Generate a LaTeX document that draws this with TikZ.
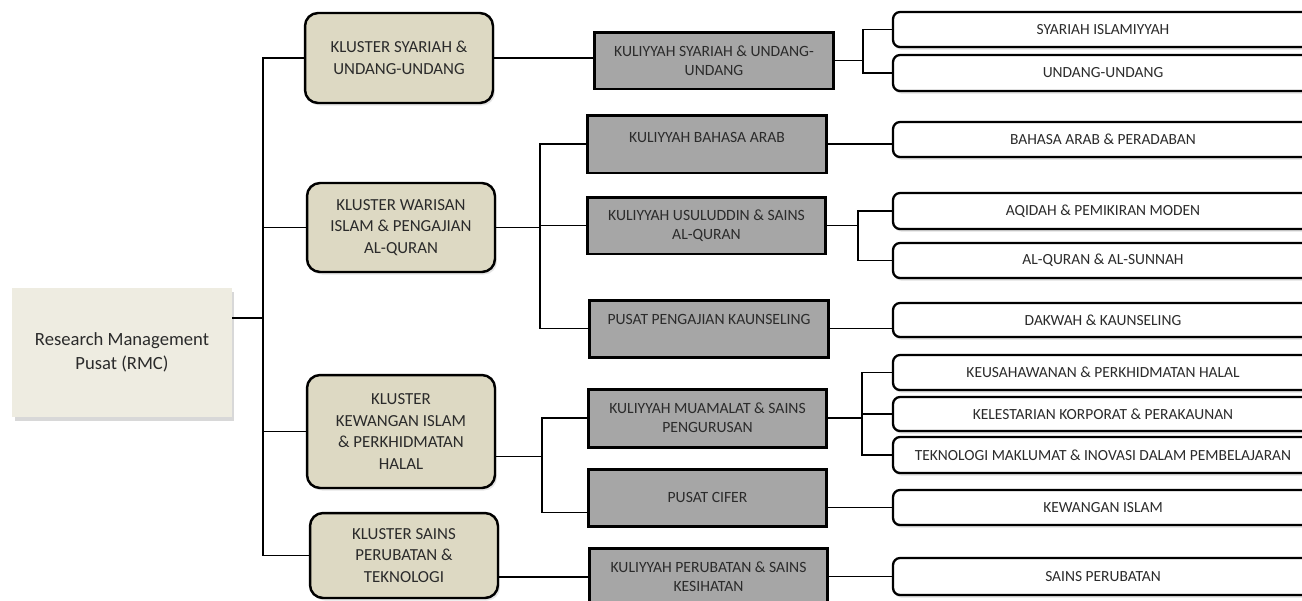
\documentclass[tikz,border=0pt]{standalone}
\usepackage{fontspec}
\setmainfont{Carlito}
\usetikzlibrary{shadows,calc}
\definecolor{rootfill}{HTML}{EEECE1}
\definecolor{clfill}{HTML}{DDD9C3}
\definecolor{kfill}{HTML}{A6A6A6}
\definecolor{txt}{HTML}{2B2B2B}
\begin{document}
\begin{tikzpicture}[x=0.02cm,y=-0.02cm,
  rootbox/.style={fill=rootfill, draw=none, minimum width=4.4cm, minimum height=2.58cm, align=center,
    font=\fontsize{10.6}{13.6}\selectfont, text=txt, inner sep=0pt,
    drop shadow={opacity=0.3, shadow xshift=0.05cm, shadow yshift=-0.07cm}},
  clbox/.style={fill=clfill, draw=black, line width=1.4pt, rounded corners=0.26cm, minimum width=3.76cm,
    align=center, font=\fontsize{9.6}{12.2}\selectfont, text=txt, inner sep=0pt,
    drop shadow={opacity=0.2, shadow xshift=0.04cm, shadow yshift=-0.05cm}},
  kbox/.style={fill=kfill, draw=black, line width=1.7pt, minimum width=4.78cm, align=center,
    font=\fontsize{8.9}{11}\selectfont, text=txt, inner sep=0pt},
  rbox/.style={fill=white, draw=black, line width=1.3pt, rounded corners=0.14cm, minimum width=8.4cm,
    align=center, font=\fontsize{8.8}{10}\selectfont, text=txt, inner sep=0pt,
    drop shadow={opacity=0.25, shadow xshift=0.02cm, shadow yshift=-0.05cm}},
  conn/.style={draw=black, line width=0.8pt}]
\useasboundingbox (0,0) rectangle (1302,600);
\clip (0,0) rectangle (1302,600);
\fill[white] (0,0) rectangle (1302,600);

% root
\node[rootbox] (root) at (122,352.5) {Research Management\\Pusat (RMC)};

% clusters
\node[clbox, minimum height=1.8cm] (c1) at (399,58) {KLUSTER SYARIAH \&\\UNDANG-UNDANG};
\node[clbox, minimum height=1.78cm] (c2) at (401,227.5) {KLUSTER WARISAN\\ISLAM \& PENGAJIAN\\AL-QURAN};
\node[clbox, minimum height=2.26cm] (c3) at (401,431.5) {KLUSTER\\KEWANGAN ISLAM\\\& PERKHIDMATAN\\HALAL};
\node[clbox, minimum height=1.7cm] (c4) at (404,555.5) {KLUSTER SAINS\\PERUBATAN \&\\TEKNOLOGI};

% kuliyyah
\node[kbox, minimum height=1.14cm] (k1) at (714,60.5) {KULIYYAH SYARIAH \& UNDANG-\\UNDANG};
\node[kbox, minimum height=1.16cm] (k2) at (707,144) {KULIYYAH BAHASA ARAB\\[-3pt]\mbox{}};
\node[kbox, minimum height=1.14cm] (k3) at (706.5,225.5) {KULIYYAH USULUDDIN \& SAINS\\AL-QURAN};
\node[kbox, minimum height=1.14cm] (k4) at (709,328.5) {PUSAT PENGAJIAN KAUNSELING\\[-1pt]\mbox{}};
\node[kbox, minimum height=1.16cm] (k5) at (707.5,418) {KULIYYAH MUAMALAT \& SAINS\\PENGURUSAN};
\node[kbox, minimum height=1.14cm] (k6) at (707.5,497.5) {PUSAT CIFER};
\node[kbox, minimum height=1.16cm] (k7) at (708.5,577) {KULIYYAH PERUBATAN \& SAINS\\KESIHATAN};

% right boxes
\node[rbox, minimum height=0.7cm] (r1) at (1103,29.5) {SYARIAH ISLAMIYYAH};
\node[rbox, minimum height=0.72cm] (r2) at (1103,73) {UNDANG-UNDANG};
\node[rbox, minimum height=0.7cm] (r3) at (1103,139.5) {BAHASA ARAB \& PERADABAN};
\node[rbox, minimum height=0.72cm] (r4) at (1103,211) {AQIDAH \& PEMIKIRAN MODEN};
\node[rbox, minimum height=0.7cm] (r5) at (1103,260.5) {AL-QURAN \& AL-SUNNAH};
\node[rbox, minimum height=0.68cm] (r6) at (1103,320) {DAKWAH \& KAUNSELING};
\node[rbox, minimum height=0.7cm] (r7) at (1103,372.5) {KEUSAHAWANAN \& PERKHIDMATAN HALAL};
\node[rbox, minimum height=0.68cm] (r8) at (1103,414) {KELESTARIAN KORPORAT \& PERAKAUNAN};
\node[rbox, minimum height=0.72cm] (r9) at (1103,455) {TEKNOLOGI MAKLUMAT \& INOVASI DALAM PEMBELAJARAN};
\node[rbox, minimum height=0.7cm] (r10) at (1103,507.5) {KEWANGAN ISLAM};
\node[rbox, minimum height=0.74cm] (r11) at (1103,576.5) {SAINS PERUBATAN};

% branch coordinates
\coordinate (t0) at (263,318);
\coordinate (b1) at (863,0);
\coordinate (b2) at (540,0);
\coordinate (b3) at (858,0);
\coordinate (b4) at (542,0);
\coordinate (b5) at (862,0);
\coordinate (c3out) at ([yshift=-0.5cm]c3.east);
\coordinate (k6in) at ([yshift=-0.3cm]k6.west);

% trunk
\draw[conn] (root.east |- t0) -- (t0);
\draw[conn] (c1.west) -| (t0) |- (c4.west);
\draw[conn] (c2.west) -- (c2.west -| t0);
\draw[conn] (c3.west) -- (c3.west -| t0);

% cluster 1
\draw[conn] (c1.east) -- (c1.east -| k1.west);
\draw[conn] (k1.east) -- (k1.east -| b1);
\draw[conn] (r1.west) -| (b1 |- r2.west) -- (r2.west);

% cluster 2
\draw[conn] (c2.east) -- (c2.east -| b2);
\draw[conn] (k2.west) -| (b2 |- k4.west) -- (k4.west);
\draw[conn] (k3.west) -- (k3.west -| b2);
\draw[conn] (k2.east) -- (k2.east -| r3.west);
\draw[conn] (k3.east) -- (k3.east -| b3);
\draw[conn] (r4.west) -| (b3 |- r5.west) -- (r5.west);
\draw[conn] (k4.east) -- (k4.east -| r6.west);

% cluster 3
\draw[conn] (c3out) -- (c3out -| b4);
\draw[conn] (k5.west) -| (b4 |- k6in) -- (k6in);
\draw[conn] (k5.east) -- (k5.east -| b5);
\draw[conn] (r7.west) -| (b5 |- r9.west) -- (r9.west);
\draw[conn] (r8.west) -- (r8.west -| b5);
\draw[conn] (r10.west -| k6.east) -- (r10.west);

% cluster 4
\draw[conn] (k7.west -| c4.east) -- (k7.west);
\draw[conn] (r11.west -| k7.east) -- (r11.west);
\end{tikzpicture}
\end{document}
